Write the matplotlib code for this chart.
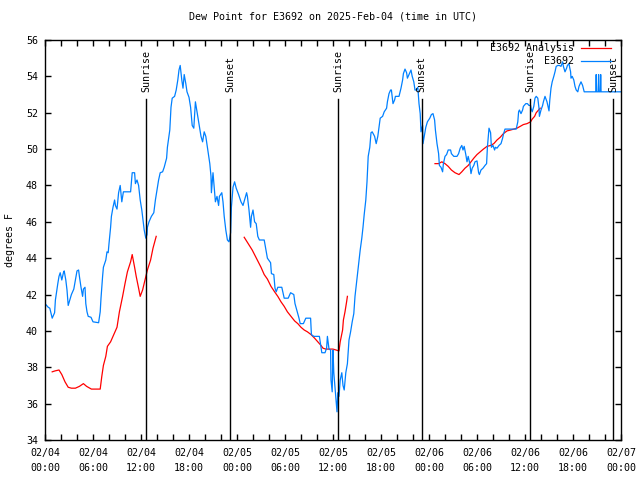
import matplotlib
matplotlib.use("Agg")
import matplotlib.pyplot as plt
from matplotlib.ticker import MultipleLocator, FixedLocator, FixedFormatter

# ---------------- data (hours since 2025-02-04 00:00 UTC) ----------------
obs_hours = [0.0, 0.4, 0.6, 0.9, 1.2, 1.3, 1.6, 1.75, 1.9, 2.1, 2.3, 2.4, 2.6, 2.75, 2.9, 3.1,
             3.3, 3.6, 3.8, 4.0, 4.2, 4.3, 4.5, 4.7, 4.8, 5.0, 5.1, 5.25, 5.4, 5.75, 6.0, 6.7,
             6.9, 7.0, 7.2, 7.3, 7.6, 7.75, 7.9, 8.0, 8.2, 8.3, 8.5, 8.7, 8.8, 9.0, 9.2, 9.4,
             9.6, 9.8, 10.7, 10.9, 11.2, 11.3, 11.5, 11.7, 11.9, 12.1, 12.25, 12.4, 12.6, 12.75,
             12.8, 13.0, 13.3, 13.6, 13.8, 14.0, 14.2, 14.4, 14.7, 14.9, 15.2, 15.3, 15.6, 15.75,
             15.9, 16.2, 16.4, 16.6, 16.75, 16.9, 17.1, 17.25, 17.4, 17.6, 17.75, 18.0, 18.2,
             18.4, 18.6, 18.8, 19.0, 19.25, 19.5, 19.7, 19.9, 20.1, 20.3, 20.6, 20.75, 20.8,
             21.0, 21.2, 21.3, 21.5, 21.7, 21.8, 22.1, 22.25, 22.4, 22.6, 22.8, 23.0, 23.2,
             23.3, 23.5, 23.7, 23.9, 24.2, 24.5, 24.75, 25.0, 25.2, 25.3, 25.5, 25.7, 25.8,
             26.0, 26.2, 26.4, 26.6, 26.8, 27.4, 27.6, 27.8, 28.2, 28.3, 28.6, 28.75, 28.9,
             29.1, 29.6, 29.9, 30.4, 30.7, 31.1, 31.25, 31.5, 31.75, 31.9, 32.3, 32.6, 33.2,
             33.3, 33.6, 34.3, 34.6, 35.0, 35.2, 35.3, 35.5, 35.7, 35.75, 35.9, 36.0, 36.1,
             36.3, 36.5, 36.6, 36.75, 36.9, 37.1, 37.25, 37.4, 37.6, 37.8, 38.0, 38.2, 38.4,
             38.6, 38.75, 38.9, 39.1, 39.25, 39.4, 39.6, 39.75, 39.9, 40.1, 40.25, 40.4, 40.6,
             40.75, 40.9, 41.2, 41.4, 41.6, 41.75, 41.9, 42.2, 42.4, 42.7, 42.8, 43.0, 43.2,
             43.3, 43.5, 43.7, 43.8, 44.25, 44.5, 44.7, 44.8, 45.0, 45.2, 45.3, 45.6, 45.75,
             45.9, 46.1, 46.25, 46.4, 46.6, 46.75, 46.9, 47.0, 47.2, 47.25, 47.4, 47.6, 47.8,
             48.1, 48.3, 48.5, 48.7, 48.8, 49.0, 49.2, 49.3, 49.5, 49.7, 49.8, 50.0, 50.2,
             50.4, 50.7, 50.8, 51.1, 51.5, 51.7, 51.9, 52.1, 52.25, 52.4, 52.6, 52.75, 52.9,
             53.1, 53.25, 53.4, 53.6, 53.75, 54.0, 54.2, 54.3, 54.5, 54.75, 55.0, 55.2, 55.3,
             55.5, 55.7, 55.8, 56.0, 56.2, 56.3, 56.5, 56.75, 57.0, 57.2, 57.3, 57.5, 58.9,
             59.1, 59.2, 59.3, 59.5, 59.7, 59.8, 60.1, 60.3, 60.5, 60.7, 60.75, 60.9, 61.1,
             61.25, 61.4, 61.6, 61.75, 61.8, 62.0, 62.2, 62.3, 62.5, 62.75, 63.0, 63.1, 63.25,
             63.4, 63.6, 63.75, 63.9, 64.1, 64.3, 64.5, 64.7, 64.8, 65.0, 65.2, 65.3, 65.5,
             65.6, 65.7, 65.75, 65.9, 66.1, 66.25, 66.4, 66.6, 66.75, 67.0, 67.2, 67.4, 68.85,
             68.9, 68.95, 69.15, 69.2, 69.25, 69.41, 69.46, 69.51, 72.0]
obs_values = [41.5, 41.3, 41.25, 40.7, 41.0, 41.7, 42.6, 43.0, 43.2, 42.8, 43.2, 43.3, 42.8, 42.25,
              41.4, 41.7, 42.0, 42.3, 42.8, 43.3, 43.35, 43.0, 42.4, 41.9, 42.3, 42.4, 41.5,
              41.05, 40.8, 40.75, 40.5, 40.45, 41.05, 41.8, 43.0, 43.5, 43.9, 44.35, 44.3, 44.8,
              45.7, 46.3, 46.8, 47.2, 46.9, 46.7, 47.6, 48.0, 47.1, 47.65, 47.65, 48.7, 48.7,
              48.1, 48.3, 48.0, 47.2, 46.65, 46.1, 45.55, 45.1, 45.3, 45.7, 46.0, 46.3, 46.5,
              47.2, 47.75, 48.3, 48.7, 48.75, 49.0, 49.5, 50.1, 51.05, 52.3, 52.8, 52.9, 53.25,
              53.8, 54.35, 54.6, 53.8, 53.35, 54.1, 53.6, 53.15, 52.85, 52.3, 51.3, 51.15, 52.6,
              52.05, 51.4, 50.7, 50.4, 50.95, 50.7, 50.1, 49.2, 48.5, 47.6, 48.7, 47.6, 47.1,
              47.4, 46.9, 47.4, 47.6, 47.1, 46.3, 45.55, 45.0, 44.9, 45.4, 46.8, 47.9, 48.2,
              47.85, 47.5, 47.1, 46.9, 47.3, 47.6, 47.4, 46.65, 45.7, 46.3, 46.65, 46.0, 45.9,
              45.2, 45.0, 45.0, 44.5, 44.0, 43.75, 43.15, 43.1, 42.35, 42.15, 42.4, 42.4, 41.8,
              41.8, 42.1, 42.0, 41.5, 41.1, 40.7, 40.4, 40.4, 40.7, 40.7, 39.8, 39.7, 39.7, 38.8,
              38.8, 39.05, 39.7, 39.0, 38.95, 37.3, 36.65, 38.95, 37.7, 36.6, 35.55, 36.6, 36.4,
              37.3, 37.7, 37.0, 36.75, 37.7, 38.2, 39.5, 39.95, 40.5, 40.95, 41.9, 42.5, 43.25,
              43.9, 44.45, 45.1, 45.7, 46.4, 47.2, 48.2, 49.6, 50.1, 50.9, 50.95, 50.7, 50.3,
              50.7, 51.2, 51.7, 51.8, 52.05, 52.25, 52.6, 53.05, 53.25, 53.25, 52.5, 52.7, 52.9,
              52.9, 53.35, 53.8, 54.15, 54.4, 54.2, 53.9, 54.2, 54.35, 54.0, 53.7, 53.25, 53.25,
              53.4, 52.5, 51.95, 50.95, 51.3, 50.3, 50.7, 51.2, 51.5, 51.7, 51.9, 51.95, 51.6,
              51.05, 50.3, 49.75, 49.1, 49.0, 48.75, 49.2, 49.6, 49.7, 49.95, 49.95, 49.75, 49.6,
              49.6, 49.75, 50.05, 50.2, 49.95, 50.15, 49.7, 49.3, 49.6, 49.2, 48.65, 48.95, 49.1,
              49.3, 49.35, 48.7, 48.6, 48.85, 48.95, 49.1, 49.2, 50.1, 51.15, 50.9, 50.1, 50.2,
              49.95, 50.1, 50.05, 50.2, 50.3, 50.6, 50.8, 51.1, 51.1, 51.5, 52.05, 52.15, 51.95,
              52.15, 52.35, 52.5, 52.5, 52.4, 52.4, 52.25, 52.05, 52.35, 52.8, 52.9, 52.8, 52.25,
              51.8, 52.15, 52.4, 52.6, 52.9, 52.6, 52.1, 52.7, 53.35, 53.7, 54.0, 54.25, 54.55,
              54.6, 54.6, 54.55, 54.8, 54.55, 54.25, 54.45, 54.6, 54.7, 54.45, 54.25, 53.9, 54.0,
              53.8, 53.45, 53.25, 53.15, 53.45, 53.7, 53.5, 53.15, 53.15, 54.1, 53.15, 53.15,
              54.1, 53.15, 53.15, 54.1, 53.15, 53.15]

ana1_hours = [0.9, 1.25, 1.75, 2.1, 2.5, 2.9, 3.3, 3.8, 4.3, 4.8, 5.2, 5.8, 6.9, 7.1, 7.3, 7.6,
              7.8, 8.2, 8.5, 8.75, 9.0, 9.3, 9.7, 10.0, 10.3, 10.7, 10.9, 11.2, 11.4, 11.7, 11.9,
              12.2, 12.5, 12.8, 13.2, 13.5, 13.9]
ana1_values = [37.75, 37.8, 37.85, 37.6, 37.2, 36.9, 36.85, 36.85, 36.95, 37.1, 36.95, 36.8, 36.8,
               37.5, 38.1, 38.6, 39.15, 39.4, 39.7, 39.95, 40.2, 41.05, 41.9, 42.6, 43.25, 43.8,
               44.2, 43.5, 43.0, 42.35, 41.9, 42.25, 42.8, 43.35, 43.9, 44.55, 45.2]

ana2_hours = [24.9, 25.9, 27.0, 27.4, 27.8, 28.25, 28.7, 29.1, 29.5, 29.9, 30.3, 30.75, 31.2,
              31.6, 32.0, 32.4, 32.8, 33.25, 33.7, 34.1, 34.5, 34.75, 35.1, 36.0, 36.75, 36.9,
              37.2, 37.3, 37.5, 37.7, 37.8]
ana2_values = [45.15, 44.45, 43.5, 43.1, 42.85, 42.45, 42.15, 41.9, 41.6, 41.35, 41.05, 40.8,
               40.55, 40.4, 40.2, 40.05, 39.95, 39.8, 39.6, 39.4, 39.2, 39.05, 39.0, 39.0, 38.9,
               39.4, 40.05, 40.6, 41.05, 41.6, 41.9]

ana3_hours = [48.75, 49.2, 49.6, 50.0, 50.4, 50.8, 51.25, 51.75, 52.1, 52.5, 52.9, 53.25, 53.6,
              54.0, 54.4, 54.8, 55.25, 55.7, 56.1, 56.5, 56.9, 57.3, 57.75, 58.2, 58.6, 59.0,
              59.4, 59.8, 60.25, 60.7, 60.9, 61.2, 61.4, 61.7, 61.9]
ana3_values = [49.2, 49.2, 49.3, 49.2, 49.05, 48.85, 48.7, 48.6, 48.75, 48.95, 49.1, 49.3, 49.5,
               49.7, 49.85, 50.0, 50.15, 50.2, 50.3, 50.5, 50.65, 50.85, 51.0, 51.05, 51.1, 51.15,
               51.25, 51.35, 51.4, 51.5, 51.65, 51.8, 52.0, 52.15, 52.25]

sun_hours = [12.67, 23.17, 36.67, 47.1, 60.67, 71.05]
sun_labels = ["Sunrise", "Sunset", "Sunrise", "Sunset", "Sunrise", "Sunset"]

xtick_hours = [0, 6, 12, 18, 24, 30, 36, 42, 48, 54, 60, 66, 72]
xtick_labels = ["02/04\n00:00", "02/04\n06:00", "02/04\n12:00", "02/04\n18:00",
                "02/05\n00:00", "02/05\n06:00", "02/05\n12:00", "02/05\n18:00",
                "02/06\n00:00", "02/06\n06:00", "02/06\n12:00", "02/06\n18:00",
                "02/07\n00:00"]
ytick_values = [34, 36, 38, 40, 42, 44, 46, 48, 50, 52, 54, 56]

title = "Dew Point for E3692 on 2025-Feb-04 (time in UTC)"
ylabel = "degrees F"
ana_label = "E3692 Analysis"
obs_label = "E3692"

# ---------------- figure ----------------
plt.rcParams['font.family'] = ['DejaVu Sans Mono']
FS = 7.2
fig = plt.figure(figsize=(6.4, 4.8), dpi=100)
ax = fig.add_axes([45 / 640, 1 - 440 / 480, 576 / 640, 400 / 480])

red = '#ff0000'
blue = '#0080ff'
lw = 0.9

la, = ax.plot(ana1_hours, ana1_values, color=red, lw=lw, label=ana_label)
ax.plot(ana2_hours, ana2_values, color=red, lw=lw)
ax.plot(ana3_hours, ana3_values, color=red, lw=lw)
lo, = ax.plot(obs_hours, obs_values, color=blue, lw=lw, label=obs_label)

line_top = 1 - 59 / 400
text_bottom = 1 - 52 / 400
for h, lab in zip(sun_hours, sun_labels):
    ax.axvline(h, ymin=0, ymax=line_top, color='black', lw=1.0)
    ax.text(h, text_bottom, lab, rotation=90, ha='center', va='bottom',
            fontsize=FS, transform=ax.get_xaxis_transform())

ax.set_xlim(0, 72)
ax.set_ylim(34, 56)
ax.xaxis.set_major_locator(FixedLocator(xtick_hours))
ax.xaxis.set_major_formatter(FixedFormatter(xtick_labels))
ax.xaxis.set_minor_locator(MultipleLocator(2))
ax.yaxis.set_major_locator(FixedLocator(ytick_values))
ax.tick_params(axis='both', which='both', direction='in', top=True, right=True,
               length=4, width=1.0, labelsize=FS)
ax.tick_params(axis='x', which='major', pad=6)
ax.tick_params(axis='y', which='major', pad=5)
for t in ax.get_xticklabels():
    t.set_linespacing(1.55)
for s in ax.spines.values():
    s.set_linewidth(1.0)

ax.set_title(title, fontsize=FS, pad=15)
ax.set_ylabel(ylabel, fontsize=FS, labelpad=8)

leg = ax.legend(handles=[la, lo], loc='upper right', frameon=False, markerfirst=False,
                bbox_to_anchor=(611 / 640, 1 - 43 / 480), bbox_transform=fig.transFigure,
                borderpad=0, borderaxespad=0, handlelength=3.0, handletextpad=0.7,
                labelspacing=0.3, fontsize=FS)

fig.savefig("out.png", dpi=100)
